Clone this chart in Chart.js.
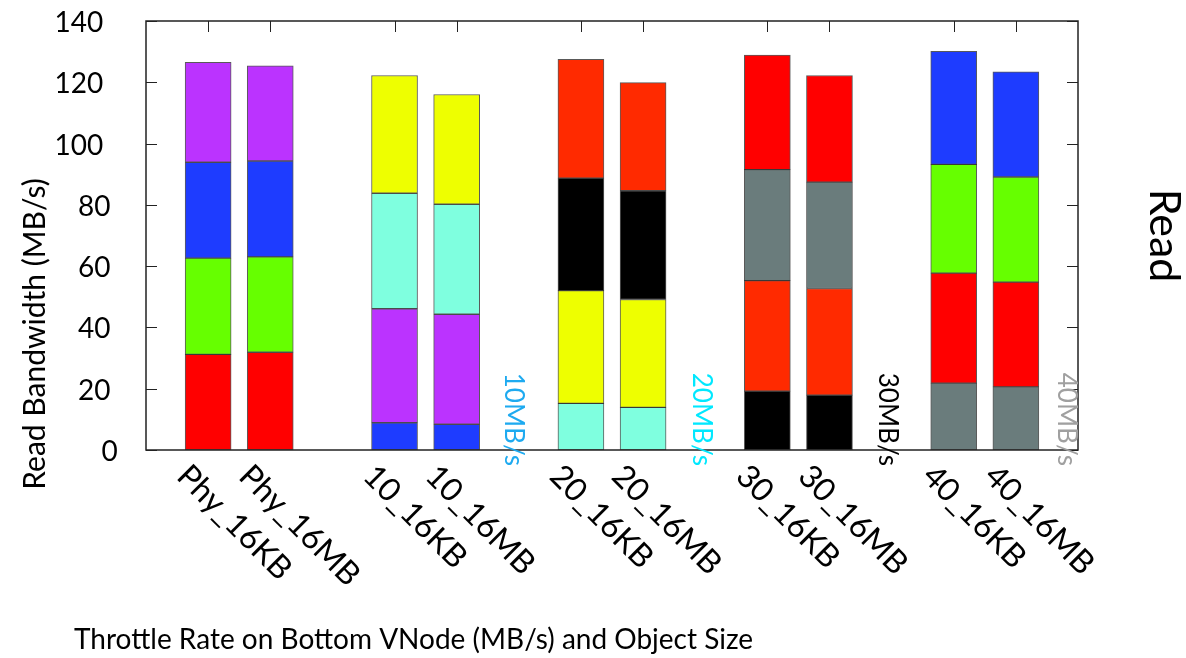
<!DOCTYPE html>
<html>
<head>
<meta charset="utf-8">
<title>Read Bandwidth</title>
<script src="https://cdn.jsdelivr.net/npm/chart.js@4.4.1/dist/chart.umd.min.js"></script>
<style>
  html, body { margin: 0; padding: 0; background: #fff; }
  #grafico { display: block; }
</style>
</head>
<body>
<canvas id="grafico" width="1186" height="658"></canvas>
<script>
// bars, left to right
const categories = ['Phy_16KB', 'Phy_16MB', '10_16KB', '10_16MB', '20_16KB', '20_16MB', '30_16KB', '30_16MB', '40_16KB', '40_16MB'];

// stacked segments, bottom to top (MB/s)
const layer1 = [31.2, 31.9, 8.9, 8.4, 15.2, 13.9, 19.2, 17.9, 21.8, 20.6];
const layer2 = [31.4, 31.1, 37.2, 35.9, 36.8, 35.2, 36.1, 34.8, 35.9, 34.2];
const layer3 = [31.3, 31.3, 37.7, 35.9, 36.7, 35.5, 36.2, 34.7, 35.5, 34.3];
const layer4 = [32.6, 31.1, 38.4, 35.8, 38.8, 35.3, 37.4, 34.8, 36.9, 34.3];

// throttle rate labels between the groups
const rates = ['10MB/s', '20MB/s', '30MB/s', '40MB/s'];

const yMin = 0;
const yMax = 140;
const yStep = 20;

// colours
const red = '#ff0000';
const green = '#66ff00';
const blue = '#1e3cff';
const purple = '#bb33ff';
const yellow = '#eeff00';
const cyan = '#7fffdf';
const orange = '#ff2a00';
const black = '#000000';
const grey = '#6a7c7c';

const colors1 = [red, red, blue, blue, cyan, cyan, black, black, grey, grey];
const colors2 = [green, green, purple, purple, yellow, yellow, orange, orange, red, red];
const colors3 = [blue, blue, cyan, cyan, black, black, grey, grey, green, green];
const colors4 = [purple, purple, yellow, yellow, orange, orange, red, red, blue, blue];
const rateColors = ['#1eaaf0', '#00e8ff', '#000000', '#a0a0a0'];

// every group takes 3 slots: 2 bars and a gap
const nSlots = Math.ceil(categories.length / 2) * 3 + 1;
function slotOf(i) {
    return Math.floor(i / 2) * 3 + (i % 2) + 1;
}
function toSlots(arr, empty) {
    let out = new Array(nSlots).fill(empty);
    arr.forEach((v, i) => { out[slotOf(i)] = v; });
    return out;
}

let labels = toSlots(categories, '');

const FONT = 'Lato, "Open Sans", sans-serif';

const decor = {
    id: 'decor',
    afterDatasetsDraw(chart) {
        const ctx = chart.ctx;
        const a = chart.chartArea;
        const x = chart.scales.x;
        const y = chart.scales.y;

        ctx.save();

        // frame
        ctx.strokeStyle = '#222';
        ctx.lineWidth = 1.5;
        ctx.strokeRect(a.left, a.top, a.right - a.left, a.bottom - a.top);

        // inward ticks
        ctx.lineWidth = 1;
        for (let v = yMin; v <= yMax; v += yStep) {
            const py = Math.round(y.getPixelForValue(v)) + 0.5;
            ctx.beginPath();
            ctx.moveTo(a.left, py);
            ctx.lineTo(a.left + 11, py);
            ctx.moveTo(a.right, py);
            ctx.lineTo(a.right - 11, py);
            ctx.stroke();
        }
        categories.forEach((c, i) => {
            const px = Math.round(x.getPixelForValue(slotOf(i))) + 0.5;
            ctx.beginPath();
            ctx.moveTo(px, a.top);
            ctx.lineTo(px, a.top + 11);
            ctx.stroke();
        });

        // y tick labels
        ctx.fillStyle = '#000';
        ctx.font = '28px ' + FONT;
        ctx.textAlign = 'left';
        ctx.textBaseline = 'middle';
        for (let v = yMin; v <= yMax; v += yStep) {
            const s = String(v);
            ctx.fillText(s, a.left - 21 - 23.5 * s.length, y.getPixelForValue(v) + 2);
        }

        // category labels, rotated 45 degrees clockwise
        ctx.font = '32px ' + FONT;
        ctx.textBaseline = 'alphabetic';
        categories.forEach((c, i) => {
            const px = x.getPixelForValue(slotOf(i));
            ctx.save();
            ctx.translate(px - 33, a.bottom + 28);
            ctx.rotate(Math.PI / 4);
            ctx.fillText(c, 0, 0);
            ctx.restore();
        });

        // rate labels, vertical
        const ratePos = [5.93, 8.95, 11.95, 14.83];
        ctx.font = '26px ' + FONT;
        rates.forEach((r, i) => {
            ctx.save();
            ctx.fillStyle = rateColors[i];
            ctx.translate(x.getPixelForValue(ratePos[i]) - 9, y.getPixelForValue(25.2));
            ctx.rotate(Math.PI / 2);
            ctx.fillText(r, 0, 0);
            ctx.restore();
        });

        // axis titles
        ctx.fillStyle = '#000';
        ctx.font = '30px ' + FONT;
        ctx.save();
        ctx.translate(45, 334);
        ctx.rotate(-Math.PI / 2);
        ctx.textAlign = 'center';
        ctx.fillText('Read Bandwidth (MB/s)', 0, 0);
        ctx.restore();

        ctx.font = '28px ' + FONT;
        ctx.textAlign = 'left';
        ctx.fillText('Throttle Rate on Bottom VNode (MB/s) and Object Size', 74, 649);

        ctx.font = '43px ' + FONT;
        ctx.save();
        ctx.translate(1150, (a.top + a.bottom) / 2);
        ctx.rotate(Math.PI / 2);
        ctx.textAlign = 'center';
        ctx.fillText('Read', 0, 0);
        ctx.restore();

        ctx.restore();
    }
};

function makeSet(values, colors) {
    return {
        data: toSlots(values, null),
        backgroundColor: toSlots(colors, 'transparent'),
        borderColor: 'rgba(0,0,0,0.65)',
        borderWidth: 1,
        borderSkipped: false,
        barThickness: 46
    };
}

const ctx = document.getElementById('grafico');
const chart1 = new Chart(ctx, {
    type: 'bar',
    data: {
        labels: labels,
        datasets: [
            makeSet(layer1, colors1),
            makeSet(layer2, colors2),
            makeSet(layer3, colors3),
            makeSet(layer4, colors4)
        ]
    },
    options: {
        responsive: false,
        animation: false,
        layout: {
            padding: { left: 146, right: 108, top: 21, bottom: 208 }
        },
        plugins: {
            legend: { display: false },
            tooltip: { enabled: false }
        },
        scales: {
            x: {
                display: false,
                stacked: true,
                offset: false
            },
            y: {
                display: false,
                stacked: true,
                min: yMin,
                max: yMax,
                ticks: { stepSize: yStep }
            }
        }
    },
    plugins: [decor]
});
</script>
</body>
</html>
